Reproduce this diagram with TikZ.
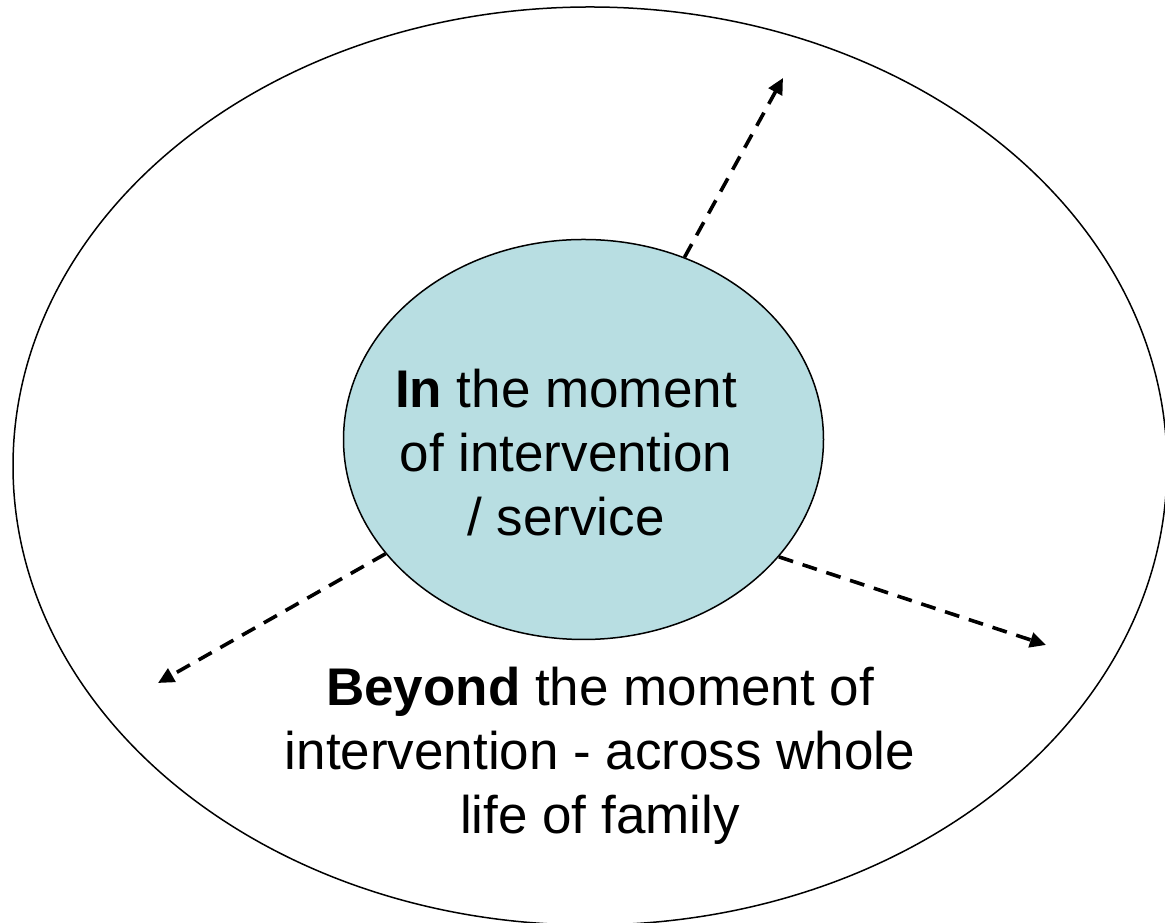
\documentclass[tikz,border=0pt]{standalone}
\usepackage{fontspec}
\setmainfont{Liberation Sans}
\usetikzlibrary{shapes.geometric,arrows.meta}
\definecolor{innerfill}{RGB}{184,222,226}
\tikzset{
  ring/.style={ellipse, draw=black, line width=1.5pt, inner sep=0pt},
  label/.style={align=center, inner sep=0pt, font=\fontsize{53}{64}\selectfont},
  flow/.style={line width=3.6pt, dash pattern=on 15pt off 10pt, -{Triangle[length=16pt,width=15pt]}}
}
\begin{document}
\begin{tikzpicture}[x=1pt,y=1pt]
\useasboundingbox (0,0) rectangle (1165,923);
\node[ring, minimum width=1154pt, minimum height=918pt] (outer) at (590,457) {};
\node[ring, fill=innerfill, minimum width=480pt, minimum height=400pt] (inner) at (583.5,483.5) {};
\node[label] (intext) at (566,470.5) {\textbf{In} the moment\\of intervention\\/ service};
\node[label] (outtext) at (600,167) {\textbf{Beyond} the moment of\\intervention - across whole\\life of family};
\coordinate (t1) at (783,845);
\coordinate (t2) at (158,240);
\coordinate (t3) at (1046,278);
\draw[flow] (inner.61.6) -- (t1);
\draw[flow] (inner.210.6) -- (t2);
\draw[flow] (inner.-31) -- (t3);
\end{tikzpicture}
\end{document}
